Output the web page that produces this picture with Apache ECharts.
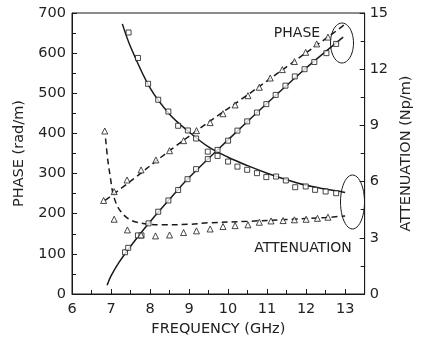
<!DOCTYPE html>
<html>
<head>
<meta charset="utf-8">
<script src="https://cdn.jsdelivr.net/npm/echarts@6/dist/echarts.min.js"></script>
<style>
  html, body { margin: 0; padding: 0; background: #fff; }
  #chart { width: 422px; height: 350px; }
</style>
</head>
<body>
<div id="chart"></div>
<script>
// frequency in GHz, phase in rad/m, attenuation in Np/m
const phaseSqPts = [
  [7.36, 104], [7.44, 115], [7.69, 146], [7.78, 146], [7.96, 176], [8.21, 205],
  [8.47, 233], [8.72, 259], [8.96, 286], [9.18, 311], [9.48, 336], [9.73, 359],
  [10.0, 382], [10.24, 407], [10.49, 430], [10.74, 452], [10.98, 473], [11.22, 496],
  [11.47, 519], [11.71, 542], [11.96, 560], [12.21, 578], [12.52, 600], [12.77, 623]
];
const phaseSqFit = [
  [6.9, 22], [7.0, 45], [7.2, 78], [7.4, 106], [7.7, 144], [8.0, 180], [8.5, 236],
  [9.0, 290], [10.0, 384], [11.0, 475], [12.0, 563], [12.95, 640]
];
const phaseTriPts = [
  [6.81, 233], [7.08, 255], [7.41, 284], [7.77, 309], [8.15, 334], [8.5, 357],
  [8.86, 382], [9.19, 407], [9.54, 427], [9.87, 449], [10.18, 471], [10.51, 494],
  [10.8, 515], [11.08, 538], [11.39, 559], [11.7, 579], [11.99, 602], [12.27, 623],
  [12.56, 640]
];
const phaseTriFit = [
  [6.85, 233], [7.5, 281], [8.5, 357], [9.5, 428], [10.5, 496], [11.5, 566],
  [12.5, 636], [13.0, 672]
];
const attnSqPts = [
  [7.45, 13.96], [7.69, 12.6], [7.95, 11.22], [8.21, 10.37], [8.47, 9.74], [8.72, 8.98],
  [8.97, 8.73], [9.18, 8.3], [9.48, 7.6], [9.73, 7.37], [10.0, 7.07], [10.24, 6.8],
  [10.49, 6.63], [10.74, 6.45], [10.98, 6.24], [11.23, 6.27], [11.48, 6.06], [11.72, 5.7],
  [11.99, 5.74], [12.23, 5.56], [12.5, 5.47], [12.77, 5.38]
];
const attnSqFit = [
  [7.29, 14.42], [7.5, 13.2], [8.0, 11.0], [8.5, 9.6], [9.0, 8.65], [9.5, 7.85],
  [10.0, 7.3], [10.5, 6.85], [11.0, 6.45], [11.5, 6.1], [12.0, 5.8], [12.5, 5.6], [13.0, 5.42]
];
const attnTriPts = [
  [6.84, 8.7], [7.08, 3.99], [7.42, 3.42], [7.77, 3.15], [8.14, 3.1], [8.5, 3.15],
  [8.86, 3.28], [9.19, 3.37], [9.54, 3.47], [9.87, 3.6], [10.18, 3.65], [10.51, 3.69],
  [10.8, 3.83], [11.1, 3.9], [11.41, 3.92], [11.7, 3.96], [12.0, 3.99], [12.29, 4.04],
  [12.56, 4.1]
];
const attnTriFit = [
  [6.86, 8.3], [6.92, 7.1], [6.98, 6.27], [7.06, 5.29], [7.22, 4.49], [7.5, 3.95],
  [7.9, 3.74], [8.3, 3.69], [9.0, 3.72], [9.5, 3.8], [10.5, 3.88], [11.5, 3.98],
  [12.5, 4.08], [13.0, 4.17]
];

const ink = '#1a1a1a';
const font = 'DejaVu Sans';

const chart = echarts.init(document.getElementById('chart'), null, {renderer: 'canvas'});

const fitLine = (data, yAxisIndex, dashed) => ({
  type: 'line',
  data,
  yAxisIndex,
  smooth: 0.35,
  showSymbol: false,
  symbol: 'none',
  silent: true,
  lineStyle: {color: ink, width: 1.5, type: dashed ? [6, 4] : 'solid'},
  z: 2
});
const points = (data, yAxisIndex, symbol, size) => ({
  type: 'scatter',
  data,
  yAxisIndex,
  symbol,
  symbolSize: size,
  itemStyle: {color: '#fff', borderColor: ink, borderWidth: 1},
  z: 3
});

// hand-drawn ellipses around the curve ends
const ellipse = (cx, cy, rx, ry) => {
  const pts = [];
  for (let i = 0; i < 48; i++) {
    const a = i / 48 * Math.PI * 2;
    pts.push([cx + rx * Math.cos(a), cy + ry * Math.sin(a)]);
  }
  return {type: 'polygon', shape: {points: pts}, style: {fill: null, stroke: ink, lineWidth: 1}};
};

const axisCommon = {
  axisLine: {show: true, lineStyle: {color: ink, width: 1}},
  axisTick: {show: true, inside: true, length: 5, lineStyle: {color: ink}},
  minorTick: {show: true, splitNumber: 2, length: 4, lineStyle: {color: ink}},
  splitLine: {show: false},
  axisLabel: {color: '#222', fontFamily: font, fontSize: 14.5, margin: 6},
  nameLocation: 'middle',
  nameTextStyle: {color: '#222', fontFamily: font, fontSize: 14.5}
};

chart.setOption({
  animation: false,
  grid: {left: 72, right: 45, top: 13, bottom: 56, show: true, borderColor: ink, borderWidth: 1},
  xAxis: Object.assign({}, axisCommon, {
    type: 'value',
    min: 6,
    max: 13.5,
    interval: 1,
    name: 'FREQUENCY (GHz)',
    nameGap: 27,
    axisLabel: Object.assign({}, axisCommon.axisLabel, {
      margin: 8,
      formatter: v => (Number.isInteger(v) ? String(v) : '')
    })
  }),
  yAxis: [
    Object.assign({}, axisCommon, {
      type: 'value',
      min: 0,
      max: 700,
      interval: 100,
      name: 'PHASE (rad/m)',
      nameGap: 45
    }),
    Object.assign({}, axisCommon, {
      type: 'value',
      position: 'right',
      min: 0,
      max: 15,
      interval: 3,
      name: 'ATTENUATION (Np/m)',
      nameGap: 26,
      axisLabel: Object.assign({}, axisCommon.axisLabel, {margin: 5})
    })
  ],
  series: [
    fitLine(phaseSqFit, 0, false),
    points(phaseSqPts, 0, 'rect', 5),
    fitLine(phaseTriFit, 0, true),
    points(phaseTriPts, 0, 'triangle', 6),
    fitLine(attnSqFit, 1, false),
    points(attnSqPts, 1, 'rect', 5),
    fitLine(attnTriFit, 1, true),
    points(attnTriPts, 1, 'triangle', 6)
  ],
  graphic: [
    {type: 'text', x: 297, y: 33, style: {text: 'PHASE', font: '14px "DejaVu Sans"', fill: '#222', align: 'center', verticalAlign: 'middle'}},
    {type: 'text', x: 303, y: 248, style: {text: 'ATTENUATION', font: '14px "DejaVu Sans"', fill: '#222', align: 'center', verticalAlign: 'middle'}},
    ellipse(342, 43, 11.5, 20),
    ellipse(352.5, 202, 12, 27)
  ]
});
</script>
</body>
</html>
